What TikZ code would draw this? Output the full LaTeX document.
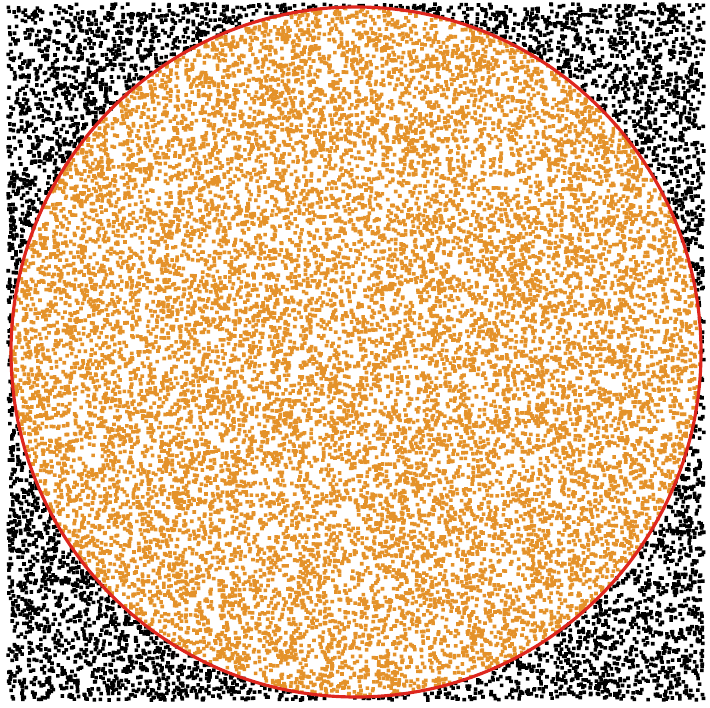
\documentclass[tikz,border=0pt]{standalone}
\usetikzlibrary{calc}
\definecolor{inside}{RGB}{228,146,42}
\definecolor{rim}{RGB}{222,38,30}
\newcount\dotk
\begin{document}
\begin{tikzpicture}[rad/.store in=\rad,rad=3.45]
\useasboundingbox (0,0) rectangle (7.10,7.07);
\fill[white] (0,0) rectangle (7.10,7.07);
\begin{scope}[shift={(3.56,3.55)}]
% two passes over the same random points: outside ones in black, inside ones in orange
\foreach \want/\dotcol in {0/black,1/inside}{
  \pgfmathsetseed{2718}
  \begin{scope}[fill=\dotcol]
  \foreach \j in {1,...,200}{
    \dotk=0
    \loop
      \advance\dotk by 1
      \pgfmathsetmacro{\px}{3.48*rand}
      \pgfmathsetmacro{\py}{3.48*rand}
      \pgfmathtruncatemacro{\isin}{(\px*\px+\py*\py)<(\rad*\rad)}
      \ifnum\isin=\want
        \pgfpathrectangle{\pgfpointxy{\px-0.018}{\py-0.018}}{\pgfpoint{0.036cm}{0.036cm}}%
      \fi
    \ifnum\dotk<100 \repeat
    \pgfusepath{fill}
  }
  \end{scope}
}
\coordinate (centre) at (0,0);
\draw[rim,line width=0.9pt] (centre) circle (\rad);
\end{scope}
\end{tikzpicture}
\end{document}
